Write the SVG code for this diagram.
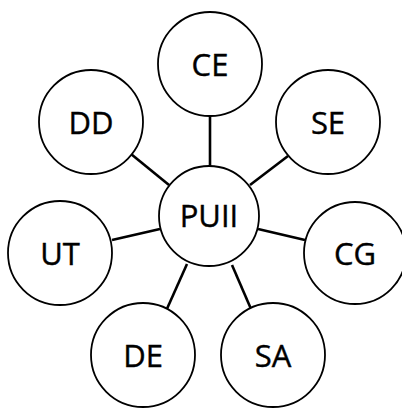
<svg xmlns="http://www.w3.org/2000/svg" width="402" height="408" viewBox="0 0 402 408">
<style>
.n circle{fill:#fff;stroke:#000;stroke-width:1.8}
.n text{font-family:"Open Sans","Noto Sans",sans-serif;font-size:31px;fill:#000;stroke:#000;stroke-width:0.4;text-anchor:middle;dominant-baseline:central}
.c line{stroke:#000;stroke-width:2.6}
</style>
<rect width="402" height="408" fill="#fff"/>
<g class="c" id="connectors">
<line x1="210" y1="116" x2="210" y2="166"/>
<line x1="131" y1="154" x2="169" y2="185"/>
<line x1="288" y1="156" x2="250" y2="185"/>
<line x1="112" y1="240" x2="160" y2="229"/>
<line x1="305" y1="240" x2="258" y2="229"/>
<line x1="166" y1="311" x2="187" y2="264"/>
<line x1="251" y1="309" x2="232" y2="265"/>
</g>
<g class="n" id="PUII"><circle cx="209" cy="216" r="50"/><text x="209" y="215">PUII</text></g>
<g class="n" id="CE"><circle cx="210" cy="64" r="52"/><text x="210" y="64">CE</text></g>
<g class="n" id="DD"><circle cx="91" cy="122" r="52"/><text x="91" y="122">DD</text></g>
<g class="n" id="SE"><circle cx="328" cy="122" r="52"/><text x="328" y="122">SE</text></g>
<g class="n" id="UT"><circle cx="60" cy="253" r="52"/><text x="60" y="253">UT</text></g>
<g class="n" id="CG"><circle cx="355" cy="253" r="51"/><text x="355" y="253">CG</text></g>
<g class="n" id="DE"><circle cx="143" cy="355" r="52"/><text x="143" y="355">DE</text></g>
<g class="n" id="SA"><circle cx="273" cy="355" r="52"/><text x="273" y="355">SA</text></g>
</svg>
